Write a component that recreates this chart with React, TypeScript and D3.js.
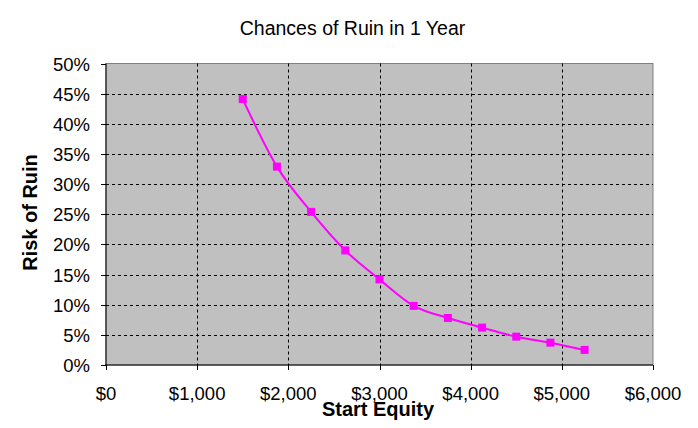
import React from 'react';
import * as d3 from 'd3';

const equity = [1500, 1875, 2250, 2625, 3000, 3375, 3750, 4125, 4500, 4875, 5250];
const ruin = [0.441, 0.329, 0.254, 0.19, 0.142, 0.098, 0.078, 0.062, 0.047, 0.037, 0.025];
const xTicks = [0, 1000, 2000, 3000, 4000, 5000, 6000];
const yTicks = [0, 0.05, 0.1, 0.15, 0.2, 0.25, 0.3, 0.35, 0.4, 0.45, 0.5];

const W = 698;
const H = 428;
const m = { left: 106, top: 63.5, right: 45, bottom: 63 };

const App: React.FC = () => {
  const x = d3.scaleLinear().domain([0, 6000]).range([m.left, W - m.right]);
  const y = d3.scaleLinear().domain([0, 0.5]).range([H - m.bottom, m.top]);
  const line = d3.line<number>()
    .x((_, i) => x(equity[i]))
    .y(d => y(d))
    .curve(d3.curveMonotoneX);
  const fmtX = (v: number) => '$' + d3.format(',')(v);
  const fmtY = d3.format('.0%');
  const font = 'Arial, "Liberation Sans", sans-serif';

  return (
    <svg width={W} height={H} style={{ display: 'block', margin: -8, background: '#fff' }} fontFamily={font}>
      <rect x={0} y={0} width={W} height={H} fill="#fff" />
      <text x={352.5} y={35} textAnchor="middle" fontSize={19.5}>Chances of Ruin in 1 Year</text>

      <rect x={x(0)} y={y(0.5)} width={x(6000) - x(0)} height={y(0) - y(0.5)} fill="#c0c0c0" stroke="#808080" strokeWidth={1} />

      {yTicks.slice(1, -1).map(t => (
        <line key={'gy' + t} x1={x(0)} x2={x(6000)} y1={Math.round(y(t)) + 0.5} y2={Math.round(y(t)) + 0.5}
          stroke="#000" strokeDasharray="3,3" strokeWidth={1} />
      ))}
      {xTicks.slice(1, -1).map(t => (
        <line key={'gx' + t} x1={Math.round(x(t)) + 0.5} x2={Math.round(x(t)) + 0.5} y1={y(0.5)} y2={y(0)}
          stroke="#000" strokeDasharray="3,3" strokeWidth={1} />
      ))}

      <line x1={x(0)} x2={x(0)} y1={y(0.5)} y2={y(0)} stroke="#000" />
      <line x1={x(0) - 1} x2={x(6000)} y1={y(0)} y2={y(0)} stroke="#000" />

      {yTicks.map(t => (
        <g key={'ty' + t}>
          <line x1={x(0) - 5} x2={x(0)} y1={Math.round(y(t)) + 0.5} y2={Math.round(y(t)) + 0.5} stroke="#000" />
          <text x={90} y={y(t) + 7} textAnchor="end" fontSize={18.5}>{fmtY(t)}</text>
        </g>
      ))}
      {xTicks.map(t => (
        <g key={'tx' + t}>
          <line x1={Math.round(x(t)) + 0.5} x2={Math.round(x(t)) + 0.5} y1={y(0)} y2={y(0) + 5} stroke="#000" />
          <text x={x(t)} y={400} textAnchor="middle" fontSize={18.5}>{fmtX(t)}</text>
        </g>
      ))}

      <text x={378} y={416} textAnchor="middle" fontSize={20} fontWeight="bold">Start Equity</text>
      <text transform={`translate(37,212.5) rotate(-90)`} textAnchor="middle" fontSize={20} fontWeight="bold">Risk of Ruin</text>

      <path d={line(ruin) || ''} fill="none" stroke="#ff00ff" strokeWidth={2} />
      {ruin.map((v, i) => (
        <rect key={'p' + i} x={x(equity[i]) - 4} y={y(v) - 4} width={8} height={8} fill="#ff00ff" />
      ))}
    </svg>
  );
};

export default App;
